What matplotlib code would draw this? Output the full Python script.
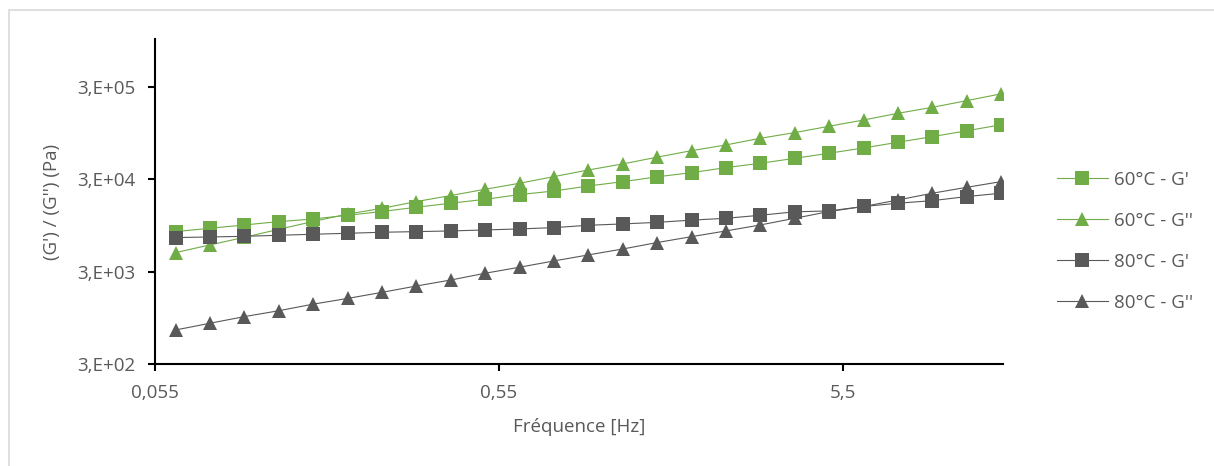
import matplotlib
matplotlib.use("Agg")
import matplotlib.pyplot as plt
from matplotlib.patches import Rectangle

plt.rcParams['font.family'] = ['Open Sans', 'DejaVu Sans']

# frequency (Hz)
freq = [0.0631, 0.0794, 0.1, 0.126, 0.158, 0.2, 0.251, 0.316, 0.398, 0.501,
        0.631, 0.794, 1.0, 1.26, 1.58, 2.0, 2.51, 3.16, 3.98, 5.01,
        6.31, 7.94, 10.0, 12.6, 15.8]

# moduli (Pa)
g1_60 = [8190, 8890, 9660, 10500, 11200, 12300, 13500, 15000, 16600, 18300,
         20600, 22500, 25500, 28400, 32000, 35600, 40300, 44900, 50800, 57700,
         65800, 75800, 87300, 101000, 117000]
g2_60 = [4850, 5870, 7100, 8670, 10500, 12700, 14600, 17300, 20100, 23500,
         27300, 32200, 38000, 44200, 52200, 61600, 70900, 83700, 96400, 113000,
         132000, 156000, 181000, 214000, 253000]
g1_80 = [7050, 7160, 7280, 7470, 7660, 7850, 8050, 8180, 8320, 8530,
         8750, 9040, 9580, 9910, 10300, 10900, 11400, 12300, 13400, 13700,
         15300, 16600, 17700, 19600, 21300]
g2_80 = [705, 834, 984, 1140, 1340, 1550, 1800, 2110, 2450, 2900,
         3370, 3940, 4580, 5310, 6220, 7230, 8320, 9660, 11400, 13500,
         15300, 18000, 21300, 24700, 28400]

labels = ["60°C - G'", "60°C - G''", "80°C - G'", "80°C - G''"]
x_ticks = [0.055, 0.55, 5.5]
x_tick_labels = ["0,055", "0,55", "5,5"]
y_ticks = [300, 3000, 30000, 300000]
y_tick_labels = ["3,E+02", "3,E+03", "3,E+04", "3,E+05"]

GREEN = "#70AD47"
GREY = "#595959"
TEXT = "#595959"
FS = 13.5

W, H = 1214, 466
fig = plt.figure(figsize=(W / 100, H / 100), dpi=100)

# chart border (Excel style)
fig.patches.append(Rectangle((8.5 / W, -0.1), 1.2, (H - 9.5) / H + 0.1,
                             transform=fig.transFigure, fill=False,
                             edgecolor="#D9D9D9", linewidth=1.2))

left, right, top, bottom = 155, 1003, 39.3, 364.3
ax = fig.add_axes([left / W, (H - bottom) / H, (right - left) / W, (bottom - top) / H])

series = [(g1_60, GREEN, 's', 10), (g2_60, GREEN, '^', 10.5),
          (g1_80, GREY, 's', 10), (g2_80, GREY, '^', 10.5)]
for (vals, col, mk, ms), lab in zip(series, labels):
    ax.plot(freq, vals, color=col, linewidth=0.8, marker=mk, markersize=ms,
            markeredgewidth=0, label=lab)

ax.set_xscale('log')
ax.set_yscale('log')
ax.set_xlim(0.055, 16.04)
ax.set_ylim(300, 986000)
ax.set_xticks(x_ticks)
ax.set_xticklabels(x_tick_labels)
ax.set_yticks(y_ticks)
ax.set_yticklabels(y_tick_labels)
ax.minorticks_off()

for s in ['top', 'right']:
    ax.spines[s].set_visible(False)
for s in ['left', 'bottom']:
    ax.spines[s].set_linewidth(1.5)
    ax.spines[s].set_color('black')
ax.tick_params(axis='both', length=5, width=1.5, color='black',
               labelsize=FS, labelcolor=TEXT)
ax.tick_params(axis='y', pad=9)
ax.tick_params(axis='x', pad=9.5)

ax.set_xlabel("Fréquence [Hz]", fontsize=FS, color=TEXT, labelpad=11)
ax.set_ylabel("(G') / (G'') (Pa)", fontsize=FS, color=TEXT, labelpad=12)

fig.legend(loc='upper left', bbox_to_anchor=(1040 / W, (H - 154) / H),
           frameon=False, fontsize=FS, labelcolor=TEXT,
           handlelength=2.72, handletextpad=0.33, labelspacing=1.22)

fig.savefig("out.png", dpi=100)
